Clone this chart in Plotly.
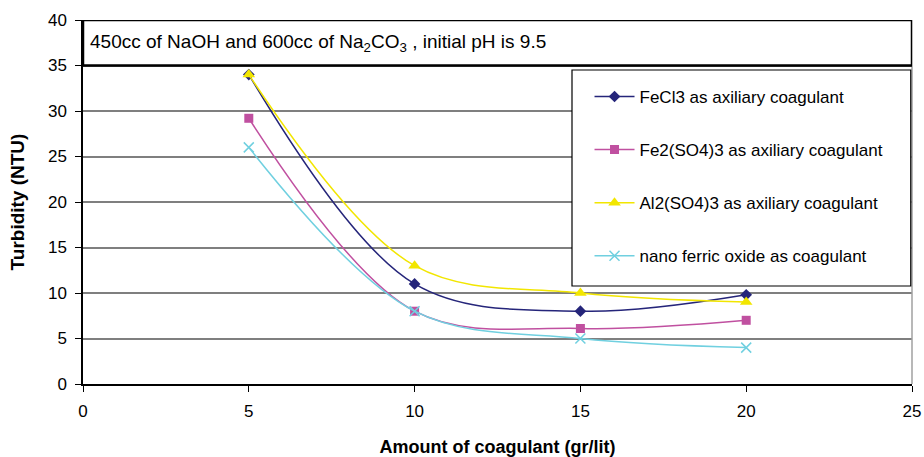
import plotly.graph_objects as go

amount = [5, 10, 15, 20]
fecl3 = [34, 11, 8, 9.8]
fe2so43 = [29.2, 8, 6.1, 7]
al2so43 = [34, 13, 10, 9]
nano = [26, 8, 5, 4]

names = ["FeCl3 as axiliary coagulant",
         "Fe2(SO4)3 as axiliary coagulant",
         "Al2(SO4)3 as axiliary coagulant",
         "nano ferric oxide as coagulant"]
colors = ["#25257A", "#C050A0", "#F2E600", "#70D0E0"]
symbols = ["diamond", "square", "triangle-up", "x-thin"]
sizes = [9, 9, 11, 10]
series = [fecl3, fe2so43, al2so43, nano]

fig = go.Figure()
for i, (nm, ys) in enumerate(zip(names, series)):
    mk = dict(symbol=symbols[i], size=sizes[i], color=colors[i])
    if symbols[i] == "x-thin":
        mk["line"] = dict(color=colors[i], width=1.5)
    fig.add_trace(go.Scatter(
        x=amount, y=ys, name=nm, mode="lines+markers",
        line=dict(color=colors[i], width=1.5, shape="spline", smoothing=1),
        marker=mk, legendgroup=str(i)))

W, H = 924, 457
L, R, T, B = 83, 12, 20, 73
fig.update_layout(
    width=W, height=H,
    margin=dict(l=L, r=R, t=T, b=B),
    paper_bgcolor="white", plot_bgcolor="white",
    font=dict(family="Arial, Liberation Sans", size=17, color="black"),
    showlegend=True,
    legend=dict(x=0.611, y=0.838, xanchor="left", yanchor="top",
                bgcolor="rgba(0,0,0,0)", borderwidth=0,
                font=dict(size=17), tracegroupgap=28, itemwidth=40),
    xaxis=dict(range=[0, 25], dtick=5, showgrid=False, zeroline=False,
               showline=True, linecolor="black", linewidth=1.5,
               ticks="outside", ticklen=6, tickcolor="black",
               ticklabelstandoff=5, automargin=False,
               title=dict(text="<b>Amount of coagulant (gr/lit)</b>", standoff=21,
                          font=dict(size=18)),
               tickfont=dict(size=17)),
    yaxis=dict(range=[0, 40], dtick=5, showgrid=True, gridcolor="#7f7f7f", gridwidth=2,
               zeroline=False, showline=True, linecolor="black", linewidth=1.5,
               ticks="outside", ticklen=6, tickcolor="black",
               ticklabelstandoff=5, automargin=False,
               title=dict(text="<b>Turbidity (NTU)</b>", standoff=18,
                          font=dict(size=19)),
               tickfont=dict(size=17)),
)

# right plot-area border
fig.add_shape(type="line", xref="paper", yref="paper", x0=1, x1=1, y0=0, y1=1,
              line=dict(color="#a0a0a0", width=1.5))
# title box
fig.add_shape(type="rect", xref="x", yref="y", x0=0, x1=25, y0=35, y1=40,
              line=dict(color="black", width=2.5), fillcolor="white", layer="above")
fig.add_annotation(xref="x", yref="y", x=0, y=37.5, xanchor="left", yanchor="middle",
                   xshift=5, showarrow=False,
                   text="450cc of NaOH and 600cc of Na<sub>2</sub>CO<sub>3</sub> , initial pH is 9.5",
                   font=dict(size=19))
# legend box
fig.add_shape(type="rect", xref="paper", yref="paper",
              x0=(572 - 83) / 829, x1=0.9985,
              y0=(384 - 286) / 364, y1=(384 - 70) / 364,
              line=dict(color="black", width=1.2), fillcolor="white", layer="above")

fig.write_html("out.html", config={"displayModeBar": False},
               post_script="document.body.style.margin='0';document.body.style.overflow='hidden';")
